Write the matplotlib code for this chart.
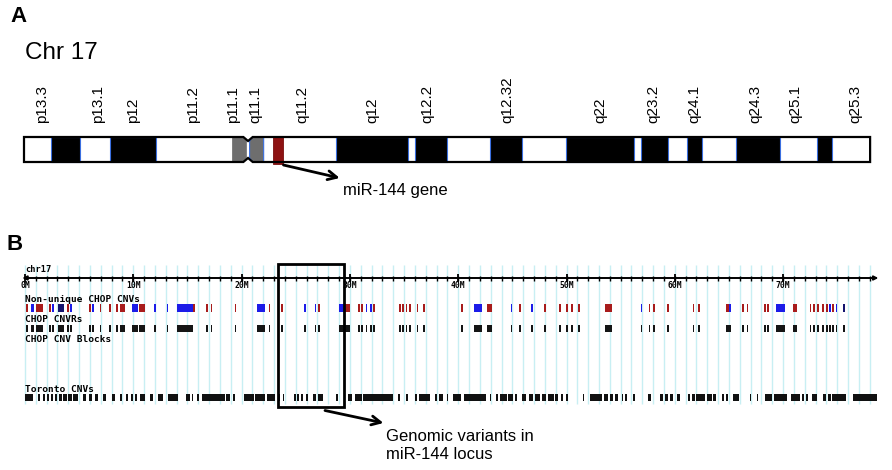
import matplotlib
matplotlib.use("Agg")
import numpy as np
import matplotlib.pyplot as plt
from matplotlib.patches import Rectangle, Polygon

# ---------------- Panel A data (Mb) ----------------
BAND_START = [0.0, 2.6, 5.4, 8.3, 12.7, 23.0, 29.9, 36.9, 37.5, 40.6, 44.7, 47.8,
              52.0, 58.5, 59.2, 61.8, 63.6, 65.1, 68.3, 72.6, 76.1, 77.5]
BAND_END = [2.6, 5.4, 8.3, 12.7, 20.0, 29.9, 36.9, 37.5, 40.6, 44.7, 47.8, 52.0,
            58.5, 59.2, 61.8, 63.6, 65.1, 68.3, 72.6, 76.1, 77.5, 81.2]
BAND_STAIN = ["w", "k", "w", "k", "w", "w", "k", "w", "k", "w", "k", "w",
              "k", "w", "k", "w", "k", "w", "k", "w", "k", "w"]
CEN_P = (20.0, 21.35)
CEN_Q = (21.65, 23.0)
CHR_LEN = 81.2
MIR144 = (23.9, 24.9)
LABELS = ["p13.3", "p13.1", "p12", "p11.2", "p11.1", "q11.1", "q11.2", "q12",
          "q12.2", "q12.32", "q22", "q23.2", "q24.1", "q24.3", "q25.1", "q25.3"]
LABEL_POS = [1.7, 7.1, 10.5, 16.2, 20.1, 22.2, 26.7, 33.4, 38.7, 46.4, 55.3,
             60.4, 64.3, 70.2, 74.0, 79.8]

# ---------------- Panel B data (Mb) ----------------
NU_START = [0.05, 0.6, 1.05, 2.2, 2.5, 3.05, 3.9, 4.2, 5.9, 6.2, 6.9, 7.8, 8.4, 8.75,
            9.85, 10.55, 11.95, 13.1, 14.0, 15.5, 16.75, 17.15, 19.35, 21.4, 22.5,
            23.65, 25.75, 26.75, 27.05, 29.0, 29.5, 30.75, 31.05, 31.45, 31.85, 32.15,
            34.55, 34.85, 35.15, 35.45, 36.15, 36.75, 40.25, 41.5, 42.7, 44.85, 45.6,
            46.75, 47.95, 49.35, 49.95, 50.45, 51.05, 53.6, 56.85, 57.6, 57.95, 59.25,
            61.65, 62.15, 64.75, 65.05, 66.25, 66.65, 68.25, 68.55, 69.3, 70.9, 72.45,
            72.75, 73.15, 73.6, 73.95, 74.25, 74.55, 74.85, 75.5]
NU_END = [0.25, 0.8, 1.65, 2.4, 2.65, 3.6, 4.05, 4.35, 6.05, 6.35, 7.05, 7.95, 8.55, 9.25,
          10.45, 11.1, 12.1, 13.25, 15.5, 15.7, 16.9, 17.3, 19.5, 22.2, 22.65,
          23.8, 25.95, 26.9, 27.2, 29.5, 30.0, 30.9, 31.2, 31.6, 32.0, 32.3,
          34.7, 35.0, 35.3, 35.6, 36.3, 36.9, 40.4, 42.2, 43.1, 45.0, 45.8,
          46.9, 48.1, 49.5, 50.1, 50.6, 51.25, 54.2, 57.0, 57.75, 58.2, 59.45,
          61.8, 62.3, 65.0, 65.2, 66.4, 66.8, 68.4, 68.7, 70.2, 71.3, 72.6,
          72.9, 73.3, 73.75, 74.1, 74.4, 74.7, 75.0, 75.7]
NU_TYPE = ["r", "b", "r", "r", "b", "n", "r", "b", "r", "b", "r", "r", "r", "r",
           "b", "r", "b", "b", "b", "r", "r", "r", "r", "b", "r",
           "r", "b", "b", "r", "b", "r", "r", "r", "b", "b", "r",
           "r", "r", "r", "r", "r", "r", "r", "b", "r", "b", "r",
           "b", "r", "r", "r", "r", "r", "r", "b", "r", "r", "r",
           "r", "r", "r", "b", "r", "r", "r", "r", "b", "r", "r",
           "r", "r", "r", "r", "b", "r", "b", "n"]

CNVR_START = [0.05, 0.6, 1.05, 2.2, 2.5, 3.05, 3.9, 4.2, 5.9, 6.2, 6.9, 7.8, 8.4, 8.75,
              9.85, 10.55, 11.95, 13.1, 14.0, 16.75, 17.15, 19.35, 21.4, 22.5,
              23.65, 25.75, 26.75, 27.05, 29.0, 30.75, 31.05, 31.45, 31.85, 32.15,
              34.55, 34.85, 35.15, 35.45, 36.15, 36.75, 40.25, 41.5, 42.7, 44.85, 45.6,
              46.75, 47.95, 49.35, 49.95, 50.45, 51.05, 53.6, 56.85, 57.6, 57.95, 59.25,
              61.65, 62.15, 64.75, 66.25, 66.65, 68.25, 68.55, 69.3, 70.9, 72.45,
              72.75, 73.15, 73.6, 73.95, 74.25, 74.55, 74.85, 75.5]
CNVR_END = [0.25, 0.8, 1.65, 2.4, 2.65, 3.6, 4.05, 4.35, 6.05, 6.35, 7.05, 7.95, 8.55, 9.25,
            10.45, 11.1, 12.1, 13.25, 15.5, 16.9, 17.3, 19.5, 22.2, 22.65,
            23.8, 25.95, 26.9, 27.2, 30.0, 30.9, 31.2, 31.6, 32.0, 32.3,
            34.7, 35.0, 35.3, 35.6, 36.3, 36.9, 40.4, 42.2, 43.1, 45.0, 45.8,
            46.9, 48.1, 49.5, 50.1, 50.6, 51.25, 54.2, 57.0, 57.75, 58.2, 59.45,
            61.8, 62.3, 65.2, 66.4, 66.8, 68.4, 68.7, 70.2, 71.3, 72.6,
            72.9, 73.3, 73.75, 74.1, 74.4, 74.7, 75.0, 75.7]

TOR_START = [0.0, 1.23, 1.63, 2.0, 2.37, 2.77, 3.17, 3.54, 4.0, 4.46, 5.33, 5.94, 6.46,
             7.23, 8.0, 8.77, 9.33, 9.76, 10.16, 10.6, 11.5, 12.3, 13.2, 14.9, 15.4,
             15.85, 16.3, 18.6, 19.2, 20.2, 21.2, 22.3, 23.4, 23.8, 24.8, 25.15, 25.45,
             25.95, 26.55, 27.1, 28.75, 29.85, 30.5, 31.25, 34.45, 35.2, 36.0, 36.4,
             37.85, 38.25, 38.95, 39.55, 40.5, 42.9, 43.5, 43.9, 44.6, 45.25, 45.85,
             46.5, 47.1, 47.7, 48.3, 48.95, 49.5, 49.95, 51.5, 52.2, 53.45, 54.0, 54.5,
             55.1, 55.4, 56.15, 57.55, 58.6, 59.1, 59.55, 60.2, 61.25, 61.55, 62.0,
             62.95, 63.55, 64.4, 64.75, 65.35, 66.9, 67.55, 68.35, 69.2, 70.7, 71.7,
             72.1, 72.65, 73.65, 74.15, 74.5, 76.5]
TOR_END = [0.77, 1.39, 1.85, 2.25, 2.61, 2.98, 3.39, 3.85, 4.31, 4.92, 5.63, 6.16, 6.77,
           7.48, 8.31, 8.93, 9.48, 10.0, 10.3, 11.1, 11.85, 12.77, 14.15, 15.2, 15.5,
           16.1, 18.5, 18.9, 19.4, 21.1, 22.2, 23.1, 23.55, 23.95, 25.0, 25.3, 25.65,
           26.1, 26.9, 27.55, 28.9, 30.15, 31.1, 34.0, 34.6, 35.35, 36.15, 37.4,
           38.0, 38.6, 39.1, 40.3, 42.6, 43.0, 43.65, 44.5, 45.1, 45.45, 46.3,
           46.95, 47.55, 48.15, 48.8, 49.25, 49.65, 50.1, 51.65, 53.25, 53.85, 54.3, 54.8,
           55.25, 55.55, 56.3, 57.8, 58.9, 59.4, 59.85, 60.5, 61.4, 61.85, 62.8,
           63.4, 63.8, 64.55, 64.9, 65.95, 67.0, 67.7, 68.95, 70.35, 71.55, 71.9,
           72.3, 73.1, 74.0, 74.4, 75.85, 78.65]

MAJOR_TICKS = [0, 10, 20, 30, 40, 50, 60, 70]
TICK_LABELS = ["0M", "10M", "20M", "30M", "40M", "50M", "60M", "70M"]
TRACK_NAMES = ["Non-unique CHOP CNVs", "CHOP CNVRs", "CHOP CNV Blocks", "Toronto CNVs"]
LOCUS = (23.4, 29.5)
AXIS_END = 78.8

# ---------------- Figure ----------------
W, H = 892, 470
fig = plt.figure(figsize=(W / 100, H / 100), dpi=100)
fig.patch.set_facecolor("white")
SANS = ["Liberation Sans", "DejaVu Sans"]
MONO = ["DejaVu Sans Mono"]

# Panel A axes: x in Mb, y in pixels
axA = fig.add_axes([0, 0, 1, 1])
axA.set_xlim(-24 / 10.42, (W - 24) / 10.42)
axA.set_ylim(H, 0)
axA.axis("off")
axA.patch.set_alpha(0)

top, bot = 137, 162
pin = 21.5
axA.add_patch(Rectangle((0, top), CHR_LEN, bot - top, facecolor="white", edgecolor="none", zorder=1))
for s, e, st in zip(BAND_START, BAND_END, BAND_STAIN):
    if st == "k":
        axA.add_patch(Rectangle((s, top), e - s, bot - top, facecolor="black",
                                edgecolor="#3a6fe0", lw=0.8, zorder=2))
# centromere
axA.add_patch(Polygon([(CEN_P[0], top), (CEN_P[1] - 0.3, top), (CEN_P[1], top + 4),
                       (CEN_P[1], bot - 4), (CEN_P[1] - 0.3, bot), (CEN_P[0], bot)],
                      closed=True, facecolor="#6e6e6e", edgecolor="#6e6e6e", lw=0.5, zorder=2))
axA.add_patch(Polygon([(CEN_Q[0], top + 4), (CEN_Q[0] + 0.3, top), (CEN_Q[1], top),
                       (CEN_Q[1], bot), (CEN_Q[0] + 0.3, bot), (CEN_Q[0], bot - 4)],
                      closed=True, facecolor="#6e6e6e", edgecolor="#3a6fe0", lw=0.8, zorder=2))
# miR-144 marker
axA.add_patch(Rectangle((MIR144[0], top - 1.5), MIR144[1] - MIR144[0], bot - top + 3,
                        facecolor="#8e1212", edgecolor="#7a0f0f", lw=0.6, zorder=3))
# outline with pinch
axA.add_patch(Polygon([(0, top), (pin - 0.45, top), (pin, top + 4), (pin + 0.45, top),
                       (CHR_LEN, top), (CHR_LEN, bot), (pin + 0.45, bot), (pin, bot - 4),
                       (pin - 0.45, bot), (0, bot)],
                      closed=True, facecolor="none", edgecolor="black", lw=1.6, zorder=4))
for name, x in zip(LABELS, LABEL_POS):
    axA.text(x, 123, name, rotation=90, ha="center", va="bottom", fontsize=11,
             family=SANS)
axA.text(0.1, 53, "Chr 17", ha="left", va="center", fontsize=17.5, family=SANS)
axA.annotate("", xy=(30.3, 178), xytext=(MIR144[1], 165),
             arrowprops=dict(arrowstyle="->", lw=2, color="black", mutation_scale=16,
                             shrinkA=0, shrinkB=0))
axA.text(30.6, 190, "miR-144 gene", ha="left", va="center", fontsize=12, family=SANS)

fig.text(10 / W, 1 - 17 / H, "A", ha="left", va="center", fontsize=16,
         fontweight="bold", family=SANS)
fig.text(7 / W, 1 - 244 / H, "B", ha="left", va="center", fontsize=16,
         fontweight="bold", family=SANS)

# Panel B axes
axB = fig.add_axes([0, 0, 1, 1])
axB.set_xlim(-25 / 10.83, (W - 25) / 10.83)
axB.set_ylim(H, 0)
axB.axis("off")
axB.patch.set_alpha(0)

grid = np.arange(0, 79, 1.0)
axB.vlines(grid, 265, 404, color="#c8eff3", lw=1.0, zorder=0)
axB.annotate("", xy=(AXIS_END, 278), xytext=(-0.25, 278),
             arrowprops=dict(arrowstyle="<|-|>", lw=1.4, color="black", mutation_scale=6,
                             shrinkA=0, shrinkB=0), zorder=3)
axB.vlines(grid[1:], 276, 280.5, color="black", lw=1.0, zorder=3)
axB.vlines(MAJOR_TICKS, 273.5, 282, color="black", lw=1.3, zorder=3)
for t, lab in zip(MAJOR_TICKS, TICK_LABELS):
    axB.text(t, 286, lab, ha="center", va="center", fontsize=5.8, fontweight="bold",
             family=MONO)
axB.text(0, 270, "chr17", ha="left", va="center", fontsize=6.2, fontweight="bold", family=MONO)
for name, y in zip(TRACK_NAMES, [299, 320, 340, 389]):
    axB.text(0, y, name, ha="left", va="center", fontsize=6.8, fontweight="bold",
             family=MONO)

COLORS = {"r": "#a81c1c", "b": "#1c1ce8", "n": "#14146e"}
for s, e, t in zip(NU_START, NU_END, NU_TYPE):
    axB.add_patch(Rectangle((s, 304), e - s, 8, facecolor=COLORS[t], edgecolor="none", zorder=2))
for s, e in zip(CNVR_START, CNVR_END):
    axB.add_patch(Rectangle((s, 325), e - s, 6.5, facecolor="#151515", edgecolor="none", zorder=2))
for s, e in zip(TOR_START, TOR_END):
    axB.add_patch(Rectangle((s, 394), e - s, 7, facecolor="#111111", edgecolor="none", zorder=2))

axB.add_patch(Rectangle((LOCUS[0], 264), LOCUS[1] - LOCUS[0], 143, facecolor="none",
                        edgecolor="black", lw=2, zorder=5))
axB.annotate("", xy=(33.1, 423), xytext=(27.7, 410.5),
             arrowprops=dict(arrowstyle="->", lw=2, color="black", mutation_scale=16,
                             shrinkA=0, shrinkB=0))
axB.text(33.3, 429, "Genomic variants in\nmiR-144 locus", ha="left", va="top",
         fontsize=12, family=SANS, linespacing=1.25)

fig.savefig("out.png", dpi=100, facecolor="white")
